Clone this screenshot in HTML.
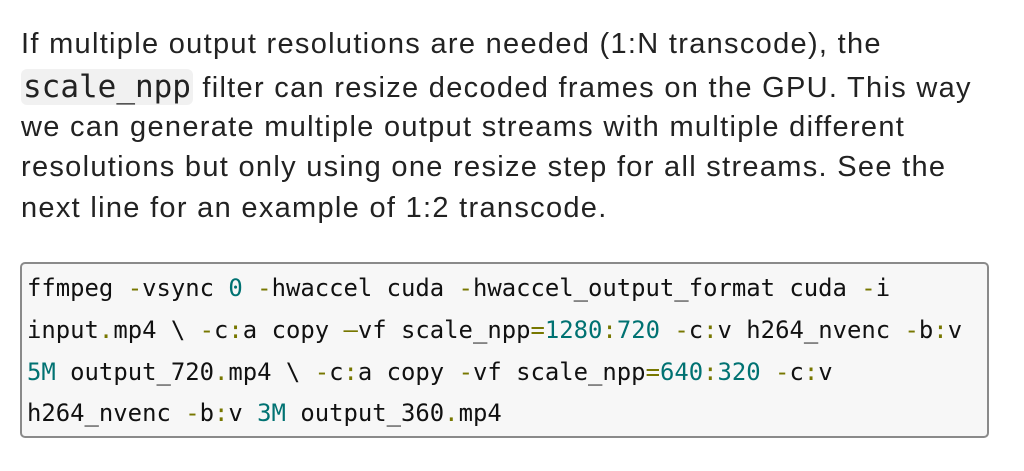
<!DOCTYPE html>
<html><head><style>
body{margin:0;width:1024px;height:471px;background:#fff;position:relative;overflow:hidden}
.p{position:absolute;left:21px;font-family:"Liberation Sans","DejaVu Sans",sans-serif;font-size:29px;letter-spacing:1.3px;color:#222;white-space:nowrap;line-height:40px}
.ic{font-family:"DejaVu Sans Mono","Liberation Mono",monospace;font-size:31px;letter-spacing:0;background:#f1f1f1;border-radius:6px;padding:0 2px;color:#222}
.code{position:absolute;left:20px;top:262px;width:969px;height:176px;background:#f7f7f7;border:2px solid #8a8a8a;border-radius:5px;box-sizing:border-box}
.l{position:absolute;left:27px;font-family:"DejaVu Sans Mono","Liberation Mono",monospace;font-size:23.9px;color:#111;white-space:pre;line-height:30px}
.o{color:#777700}.n{color:#007272}
</style></head><body>
<div class="p" style="top:24px">If multiple output resolutions are needed (1:N transcode), the</div>
<div class="p" style="top:67px"><span class="ic">scale_npp</span> filter can resize decoded frames on the GPU. This way</div>
<div class="p" style="top:107px">we can generate multiple output streams with multiple different</div>
<div class="p" style="top:147px">resolutions but only using one resize step for all streams. See the</div>
<div class="p" style="top:188px">next line for an example of 1:2 transcode.</div>
<div class="code"></div>
<div class="l" style="top:273px">ffmpeg <span class="o">-</span>vsync <span class="n">0</span> <span class="o">-</span>hwaccel cuda <span class="o">-</span>hwaccel_output_format cuda <span class="o">-</span>i</div>
<div class="l" style="top:315px">input<span class="o">.</span>mp4 \ <span class="o">-</span>c<span class="o">:</span>a copy <span class="o">–</span>vf scale_npp<span class="o">=</span><span class="n">1280</span><span class="o">:</span><span class="n">720</span> <span class="o">-</span>c<span class="o">:</span>v h264_nvenc <span class="o">-</span>b<span class="o">:</span>v</div>
<div class="l" style="top:357px"><span class="n">5M</span> output_720<span class="o">.</span>mp4 \ <span class="o">-</span>c<span class="o">:</span>a copy <span class="o">-</span>vf scale_npp<span class="o">=</span><span class="n">640</span><span class="o">:</span><span class="n">320</span> <span class="o">-</span>c<span class="o">:</span>v</div>
<div class="l" style="top:398px">h264_nvenc <span class="o">-</span>b<span class="o">:</span>v <span class="n">3M</span> output_360<span class="o">.</span>mp4</div>
</body></html>
